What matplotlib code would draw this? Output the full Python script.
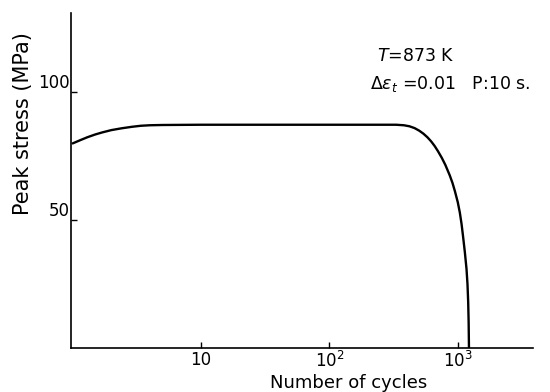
import matplotlib
matplotlib.use("Agg")
import matplotlib.pyplot as plt

# values (peak stress vs. cycles, log x)
cycles = [1, 1.15, 1.3, 1.5, 1.7, 2.0, 2.4, 2.9, 3.4, 4.0, 5, 10, 50, 200, 330,
          380, 420, 460, 500, 540, 580, 620, 660, 700, 750, 800, 866, 910, 950,
          1000, 1037, 1070, 1100, 1135, 1169, 1190, 1205, 1215, 1222]
stress = [80, 81.3, 82.4, 83.5, 84.3, 85.2, 85.9, 86.5, 86.9, 87.1, 87.2, 87.3,
          87.3, 87.3, 87.3, 87.1, 86.7, 86.0, 85.0, 83.8, 82.4, 80.8, 79.0, 77.0,
          74.4, 71.6, 67.5, 64.5, 61.3, 57.0, 53.0, 48.5, 43.5, 37.5, 31.0, 25.0,
          18.0, 10.0, 0.0]

x_ticks = [10, 100, 1000]
x_tick_labels = ["10", "$10^2$", "$10^3$"]
y_ticks = [50, 100]
y_tick_labels = ["50", "100"]

plt.rcParams['font.family'] = ['DejaVu Sans']

fig = plt.figure(figsize=(5.5, 3.92), dpi=100)
ax = fig.add_axes([0.129, 0.112, 0.84, 0.855])

ax.plot(cycles, stress, color='black', lw=1.7, solid_capstyle='round',
        solid_joinstyle='round')

ax.set_xscale('log')
ax.set_xlim(0.97, 3850)
ax.set_ylim(0, 131)

ax.spines['top'].set_visible(False)
ax.spines['right'].set_visible(False)
ax.spines['left'].set_linewidth(1.2)
ax.spines['bottom'].set_linewidth(1.2)

ax.set_xticks(x_ticks)
ax.set_xticklabels(x_tick_labels, fontsize=12)
ax.xaxis.set_minor_locator(matplotlib.ticker.NullLocator())
ax.tick_params(axis='x', pad=2)
ax.set_yticks(y_ticks)
ax.set_yticklabels(y_tick_labels, fontsize=12)
ax.tick_params(direction='in', length=4, width=1)
ax.tick_params(axis='y', pad=1)
for lab in ax.get_yticklabels():
    lab.set_va('bottom')

ax.set_xlabel("Number of cycles", fontsize=13)
ax.xaxis.set_label_coords(0.6, -0.078)
ax.set_ylabel("Peak stress (MPa)", fontsize=15)
ax.yaxis.set_label_coords(-0.082, 0.67)

fig.text(0.685, 0.845, "$T$=873 K", fontsize=12.5)
fig.text(0.672, 0.772, r"$\Delta\epsilon_t$ =0.01   P:10 s.", fontsize=12.5)

fig.savefig("out.png", dpi=100)
